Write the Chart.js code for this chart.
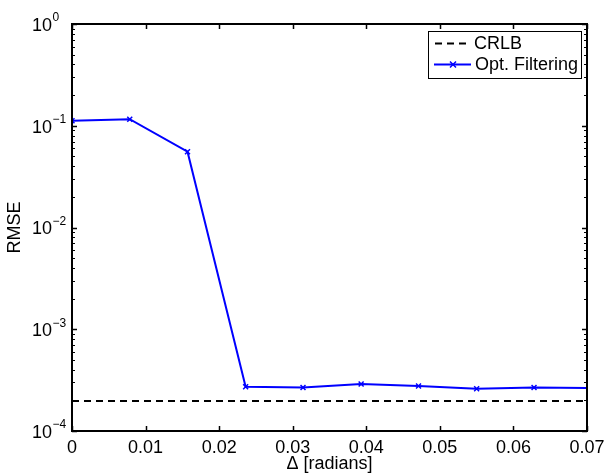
<!DOCTYPE html>
<html>
<head>
<meta charset="utf-8">
<script src="https://cdn.jsdelivr.net/npm/chart.js@4.4.1/dist/chart.umd.min.js"></script>
<style>
  html, body { margin: 0; padding: 0; background: #fff; }
  canvas { display: block; }
</style>
</head>
<body>
<canvas id="chart-canvas" width="606" height="473"></canvas>
<script>
(function(){

  // offsets in radians, i*pi/400
  const deltas = [0, 0.00785, 0.0157, 0.0236, 0.0314, 0.0393, 0.0471, 0.0550, 0.0628, 0.0707];
  const rmseOptFiltering = [0.112, 0.116, 0.0556, 2.72e-4, 2.68e-4, 2.9e-4, 2.77e-4, 2.6e-4, 2.68e-4, 2.64e-4];
  const rmseCrlb = [1.97e-4, 1.97e-4, 1.97e-4, 1.97e-4, 1.97e-4, 1.97e-4, 1.97e-4, 1.97e-4, 1.97e-4, 1.97e-4];
  const seriesLabels = ['CRLB', 'Opt. Filtering'];

  const xTicks = [0, 0.01, 0.02, 0.03, 0.04, 0.05, 0.06, 0.07];
  const yTicks = [1, 0.1, 0.01, 0.001, 0.0001];
  const yTickExponents = ['0', '\u22121', '\u22122', '\u22123', '\u22124'];

  const FONT = 'Liberation Sans, Arial, Helvetica, sans-serif';
  const BLUE = '#0000ff';

  const toPoints = (ys) => deltas.map((x, i) => ({ x, y: ys[i] }));

  // MATLAB style box, inward ticks, superscript y labels and boxed legend
  const matlabAxes = {
    id: 'matlabAxes',
    afterDraw(chart) {
      const { ctx, chartArea: a, scales } = chart;
      const xs = scales.x, ys = scales.y;
      ctx.save();
      ctx.strokeStyle = '#000';
      ctx.lineWidth = 1.5;
      ctx.beginPath();
      xTicks.forEach(v => {
        const px = Math.round(xs.getPixelForValue(v)) + 0.5;
        ctx.moveTo(px, a.bottom); ctx.lineTo(px, a.bottom - 5);
        ctx.moveTo(px, a.top); ctx.lineTo(px, a.top + 5);
      });
      yTicks.forEach(v => {
        const py = Math.round(ys.getPixelForValue(v)) + 0.5;
        ctx.moveTo(a.left, py); ctx.lineTo(a.left + 5, py);
        ctx.moveTo(a.right, py); ctx.lineTo(a.right - 5, py);
      });
      ctx.stroke();

      // minor log ticks
      ctx.lineWidth = 1;
      ctx.beginPath();
      yTicks.slice(1).forEach(d => {
        for (let k = 2; k <= 9; k++) {
          const py = Math.round(ys.getPixelForValue(d * k)) + 0.5;
          ctx.moveTo(a.left, py); ctx.lineTo(a.left + 3, py);
          ctx.moveTo(a.right, py); ctx.lineTo(a.right - 3, py);
        }
      });
      ctx.stroke();

      ctx.lineWidth = 2;
      ctx.strokeRect(a.left, a.top, a.right - a.left, a.bottom - a.top);

      // y tick labels 10^n
      ctx.fillStyle = '#000';
      ctx.textBaseline = 'middle';
      yTicks.forEach((v, i) => {
        const py = ys.getPixelForValue(v);
        ctx.font = '18px ' + FONT;
        ctx.textAlign = 'right';
        ctx.fillText('10', 52, py + 2);
        ctx.font = '12px ' + FONT;
        ctx.textAlign = 'left';
        ctx.fillText(yTickExponents[i], 52.5, py - 6);
      });

      // legend
      const lx = 428.5, ly = 31.5, lw = 153, lh = 47;
      ctx.fillStyle = '#fff';
      ctx.fillRect(lx, ly, lw, lh);
      ctx.lineWidth = 1;
      ctx.strokeStyle = '#000';
      ctx.strokeRect(lx, ly, lw, lh);

      ctx.lineWidth = 2;
      ctx.setLineDash([7, 5]);
      ctx.beginPath();
      ctx.moveTo(435, 43.5); ctx.lineTo(470, 43.5);
      ctx.stroke();
      ctx.setLineDash([]);

      ctx.strokeStyle = BLUE;
      ctx.beginPath();
      ctx.moveTo(434, 64.5); ctx.lineTo(471, 64.5);
      ctx.stroke();
      ctx.lineWidth = 1.5;
      ctx.beginPath();
      ctx.moveTo(450, 61.5); ctx.lineTo(456, 67.5);
      ctx.moveTo(456, 61.5); ctx.lineTo(450, 67.5);
      ctx.stroke();

      ctx.fillStyle = '#000';
      ctx.font = '18px ' + FONT;
      ctx.textAlign = 'left';
      ctx.fillText(seriesLabels[0], 474, 44);
      ctx.fillText(seriesLabels[1], 475, 65);
      ctx.restore();
    }
  };

  const config = {
    type: 'line',
    data: {
      datasets: [{
        label: seriesLabels[0],
        data: toPoints(rmseCrlb),
        borderColor: '#000',
        borderWidth: 2,
        borderDash: [7, 5],
        pointRadius: 0,
        clip: 0
      }, {
        label: seriesLabels[1],
        data: toPoints(rmseOptFiltering),
        borderColor: BLUE,
        borderWidth: 2,
        pointStyle: 'crossRot',
        pointRadius: 3.5,
        pointBorderWidth: 1.5,
        pointBorderColor: BLUE,
        clip: 0
      }]
    },
    options: {
      responsive: false,
      animation: false,
      devicePixelRatio: 1,
      layout: { padding: { left: 0, top: 24, right: 19, bottom: 0 } },
      plugins: { legend: { display: false }, tooltip: { enabled: false } },
      scales: {
        x: {
          type: 'linear',
          min: 0,
          max: 0.07,
          afterBuildTicks: (s) => { s.ticks = xTicks.map(value => ({ value })); },
          afterFit: (s) => {
            s.height = 42;
            s.paddingLeft = 0;
            s.paddingRight = 0;
          },
          grid: { display: false, drawTicks: false },
          border: { display: false },
          ticks: {
            color: '#000',
            padding: 6,
            maxRotation: 0,
            font: { family: FONT, size: 18 },
            callback: (v) => v === 0 ? '0' : v.toFixed(2)
          },
          title: {
            display: true,
            text: '\u0394 [radians]',
            color: '#000',
            padding: { top: 0, bottom: 0 },
            font: { family: FONT, size: 18, lineHeight: 1 }
          }
        },
        y: {
          type: 'logarithmic',
          min: 0.0001,
          max: 1,
          afterBuildTicks: (s) => { s.ticks = yTicks.map(value => ({ value })); },
          afterFit: (s) => {
            s.width = 72;
            s.paddingTop = 0;
            s.paddingBottom = 0;
          },
          grid: { display: false, drawTicks: false },
          border: { display: false },
          ticks: { display: false },
          title: {
            display: true,
            text: 'RMSE',
            color: '#000',
            padding: { top: 6, bottom: 0 },
            font: { family: FONT, size: 18, lineHeight: 1 }
          }
        }
      }
    },
    plugins: [matlabAxes]
  };

  new Chart(document.querySelector('#chart-canvas').getContext('2d'), config);
})();
</script>
</body>
</html>
